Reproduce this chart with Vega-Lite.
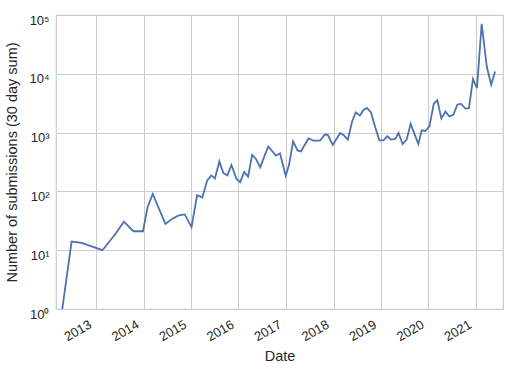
{
  "$schema": "https://vega.github.io/schema/vega-lite/v6.json",
  "autosize": "none",
  "width": 447,
  "height": 294,
  "padding": {"left": 56, "top": 15, "right": 6, "bottom": 60},
  "background": "white",
  "config": {
    "view": {"stroke": "#cccccc", "strokeWidth": 1.2},
    "font": "Liberation Sans",
    "axis": {
      "grid": true,
      "gridColor": "#cccccc",
      "gridWidth": 1,
      "domain": false,
      "ticks": false,
      "labelColor": "#262626",
      "titleColor": "#262626",
      "labelFont": "Liberation Sans",
      "titleFont": "Liberation Sans",
      "labelFontSize": 13,
      "titleFontSize": 14.5,
      "titleFontWeight": "normal"
    }
  },
  "data": {
    "values": [
      {"date": "2012-04-16", "count": 1},
      {"date": "2012-06-27", "count": 14},
      {"date": "2012-09-12", "count": 13.3},
      {"date": "2013-02-19", "count": 10},
      {"date": "2013-05-31", "count": 19},
      {"date": "2013-08-03", "count": 30.5},
      {"date": "2013-10-15", "count": 21},
      {"date": "2013-12-28", "count": 21},
      {"date": "2014-02-01", "count": 54},
      {"date": "2014-03-13", "count": 91},
      {"date": "2014-06-18", "count": 28},
      {"date": "2014-08-08", "count": 34},
      {"date": "2014-09-29", "count": 39},
      {"date": "2014-11-14", "count": 40.6},
      {"date": "2015-01-05", "count": 24.7},
      {"date": "2015-02-17", "count": 86},
      {"date": "2015-03-29", "count": 79},
      {"date": "2015-05-06", "count": 154},
      {"date": "2015-06-06", "count": 187},
      {"date": "2015-07-04", "count": 166},
      {"date": "2015-08-07", "count": 323},
      {"date": "2015-09-07", "count": 205},
      {"date": "2015-10-08", "count": 187},
      {"date": "2015-11-08", "count": 281},
      {"date": "2015-12-16", "count": 165},
      {"date": "2016-01-14", "count": 144},
      {"date": "2016-02-14", "count": 214},
      {"date": "2016-03-15", "count": 178},
      {"date": "2016-04-15", "count": 417},
      {"date": "2016-05-13", "count": 360},
      {"date": "2016-06-16", "count": 258},
      {"date": "2016-08-17", "count": 582},
      {"date": "2016-10-15", "count": 405},
      {"date": "2016-11-15", "count": 444},
      {"date": "2016-12-29", "count": 185},
      {"date": "2017-01-24", "count": 283},
      {"date": "2017-02-24", "count": 711},
      {"date": "2017-03-30", "count": 498},
      {"date": "2017-04-25", "count": 479},
      {"date": "2017-06-23", "count": 795},
      {"date": "2017-08-01", "count": 728},
      {"date": "2017-09-19", "count": 728},
      {"date": "2017-10-25", "count": 920},
      {"date": "2017-11-17", "count": 920},
      {"date": "2017-12-26", "count": 616},
      {"date": "2018-02-21", "count": 985},
      {"date": "2018-03-16", "count": 920},
      {"date": "2018-04-21", "count": 760},
      {"date": "2018-05-24", "count": 1550},
      {"date": "2018-06-20", "count": 2200},
      {"date": "2018-07-23", "count": 1950},
      {"date": "2018-08-21", "count": 2450},
      {"date": "2018-09-15", "count": 2630},
      {"date": "2018-10-16", "count": 2200},
      {"date": "2018-11-16", "count": 1275},
      {"date": "2018-12-19", "count": 740},
      {"date": "2019-01-19", "count": 740},
      {"date": "2019-02-19", "count": 865},
      {"date": "2019-03-20", "count": 760},
      {"date": "2019-04-20", "count": 780},
      {"date": "2019-05-16", "count": 985},
      {"date": "2019-06-16", "count": 640},
      {"date": "2019-07-17", "count": 760},
      {"date": "2019-08-17", "count": 1410},
      {"date": "2019-10-15", "count": 640},
      {"date": "2019-11-10", "count": 1090},
      {"date": "2019-12-08", "count": 1060},
      {"date": "2020-01-08", "count": 1275},
      {"date": "2020-02-11", "count": 3100},
      {"date": "2020-03-09", "count": 3550},
      {"date": "2020-04-09", "count": 1740},
      {"date": "2020-05-10", "count": 2270},
      {"date": "2020-06-10", "count": 1885},
      {"date": "2020-07-10", "count": 2000},
      {"date": "2020-08-10", "count": 2990},
      {"date": "2020-09-06", "count": 3100},
      {"date": "2020-10-11", "count": 2560},
      {"date": "2020-11-07", "count": 2600},
      {"date": "2020-12-08", "count": 8150},
      {"date": "2021-01-08", "count": 5730},
      {"date": "2021-02-13", "count": 71000},
      {"date": "2021-03-24", "count": 13400},
      {"date": "2021-04-27", "count": 6500},
      {"date": "2021-05-27", "count": 10900}
    ]
  },
  "mark": {"type": "line", "color": "#4c72b0", "strokeWidth": 1.8, "clip": true},
  "encoding": {
    "x": {
      "field": "date",
      "type": "temporal",
      "scale": {"domain": ["2012-02-28", "2021-07-27"]},
      "axis": {
        "title": "Date",
        "tickCount": {"interval": "year", "step": 1},
        "format": "%Y",
        "labelAngle": -30,
        "labelAlign": "right",
        "labelBaseline": "top",
        "labelOffset": -9,
        "labelPadding": 9,
        "titlePadding": 6
      }
    },
    "y": {
      "field": "count",
      "type": "quantitative",
      "scale": {"type": "log", "domain": [1, 100000], "nice": false},
      "axis": {
        "title": "Number of submissions (30 day sum)",
        "values": [1, 10, 100, 1000, 10000, 100000],
        "labelExpr": "'10' + ['⁰','¹','²','³','⁴','⁵'][round(log(datum.value)/LN10)]",
        "labelOffset": 5,
        "labelPadding": 7,
        "titlePadding": 9
      }
    }
  }
}
